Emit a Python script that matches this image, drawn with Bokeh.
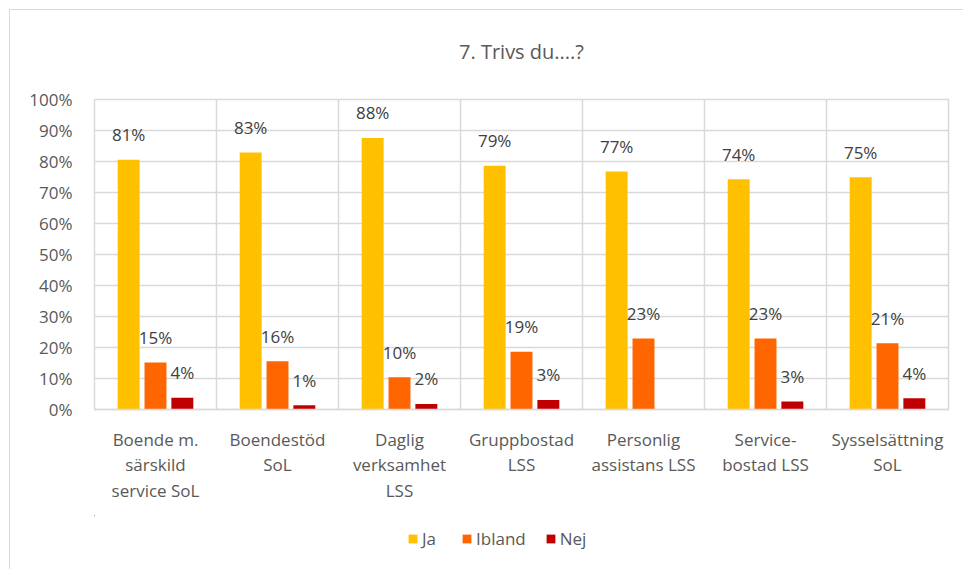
from bokeh.plotting import figure
from bokeh.layouts import column
from bokeh.models import (ColumnDataSource, FixedTicker, NumeralTickFormatter,
                          Legend, LegendItem, Range1d)
from bokeh.embed import file_html
from bokeh.resources import INLINE
from bokeh.core.properties import value

categories = ["Boende m.\nsärskild\nservice SoL", "Boendestöd\nSoL",
              "Daglig\nverksamhet\nLSS", "Gruppbostad\nLSS",
              "Personlig\nassistans LSS", "Service-\nbostad LSS",
              "Sysselsättning\nSoL"]
series_names = ["Ja", "Ibland", "Nej"]
ja = [80.6, 82.9, 87.6, 78.6, 76.8, 74.3, 74.9]
ibland = [15.2, 15.6, 10.4, 18.6, 22.9, 22.9, 21.4]
nej = [3.8, 1.4, 1.8, 3.1, 0.0, 2.6, 3.6]
colors = ["#FFC000", "#FF6600", "#C00000"]
offsets = [-0.22, 0.0, 0.22]
y_ticks = [0, 0.1, 0.2, 0.3, 0.4, 0.5, 0.6, 0.7, 0.8, 0.9, 1.0]

FONT = "Open Sans"
TXT = "#595959"
GRID = "#d9d9d9"

p = figure(width=963, height=515, output_backend="svg", toolbar_location=None,
           x_range=(0, len(categories)), y_range=(0, 1),
           min_border_left=94, min_border_right=15, min_border_top=94,
           min_border_bottom=106)
p.border_fill_alpha = 0
p.background_fill_color = "white"

p.title.text = "7. Trivs du....?"
p.title.align = "center"
p.title.text_font = FONT
p.title.text_font_size = "20px"
p.title.text_font_style = "normal"
p.title.text_color = TXT
p.title.standoff = 70

p.outline_line_color = GRID
p.outline_line_width = 1.5

# grids
p.xgrid.ticker = FixedTicker(ticks=list(range(len(categories) + 1)))
p.ygrid.ticker = FixedTicker(ticks=y_ticks)
for g in (p.xgrid[0], p.ygrid[0]):
    g.grid_line_color = GRID
    g.grid_line_width = 1.5

# axes
p.yaxis.ticker = FixedTicker(ticks=y_ticks)
p.yaxis.formatter = NumeralTickFormatter(format="0%")
p.yaxis.axis_line_color = None
p.yaxis.major_tick_line_color = None
p.yaxis.minor_tick_line_color = None
p.yaxis.major_label_standoff = 16
p.yaxis.major_label_text_font = FONT
p.yaxis.major_label_text_font_size = "17px"
p.yaxis.major_label_text_color = TXT

centers = [i + 0.5 for i in range(len(categories))]
p.xaxis.ticker = FixedTicker(ticks=centers)
p.xaxis.major_label_overrides = {c: lab for c, lab in zip(centers, categories)}
p.xaxis.axis_line_color = GRID
p.xaxis.axis_line_width = 1.5
p.xaxis.major_tick_line_color = None
p.xaxis.minor_tick_line_color = None
p.xaxis.major_label_standoff = 12
p.xaxis.major_label_text_font = FONT
p.xaxis.major_label_text_font_size = "17px"
p.xaxis.major_label_text_color = TXT
p.xaxis.major_label_text_line_height = 1.12

sources = []
for name, vals, col, off in zip(series_names, [ja, ibland, nej], colors, offsets):
    src = ColumnDataSource(dict(
        x=[c + off for c in centers],
        top=[v / 100 for v in vals],
        lab=[f"{round(v)}%" if v > 0 else "" for v in vals],
    ))
    sources.append(src)
    p.vbar(x="x", top="top", width=0.18, bottom=0, source=src,
           fill_color=col, line_color=None)
    p.text(x="x", y="top", text="lab", source=src, y_offset=-25,
           text_align="center", text_baseline="middle",
           text_font=value(FONT), text_font_size="17px", text_color="#404040")

# legend strip below the chart (zero-height bars kept out of view; only the
# legend swatches are drawn)
p2 = figure(width=963, height=54, output_backend="svg", toolbar_location=None,
            x_axis_type=None, y_axis_type=None,
            x_range=Range1d(100, 101), y_range=Range1d(-2, -1),
            min_border=0, min_border_left=0, min_border_right=0,
            min_border_top=0, min_border_bottom=0)
p2.border_fill_alpha = 0
p2.background_fill_alpha = 0
p2.outline_line_color = None
p2.xgrid.visible = False
p2.ygrid.visible = False
items = []
for name, col, src in zip(series_names, colors, sources):
    r = p2.vbar(x="x", top="top", bottom="top", width=0.18, source=src,
                fill_color=col, line_color=None)
    items.append(LegendItem(label=name, renderers=[r]))
legend = Legend(items=items, orientation="horizontal", location=(313, 19),
                padding=0, margin=0, spacing=19, label_standoff=4,
                glyph_width=11, glyph_height=11, border_line_color=None,
                background_fill_alpha=0,
                label_text_font=FONT, label_text_font_size="17px",
                label_text_color=TXT)
p2.add_layout(legend, "center")

layout = column(p, p2, spacing=0)
layout.styles = {"background":
                 "linear-gradient(#d9d9d9,#d9d9d9) 9px 9px / 1px 100% no-repeat, "
                 "linear-gradient(#d9d9d9,#d9d9d9) 9px 9px / 100% 1px no-repeat"}

open("out.html", "w").write(file_html(layout, INLINE))
